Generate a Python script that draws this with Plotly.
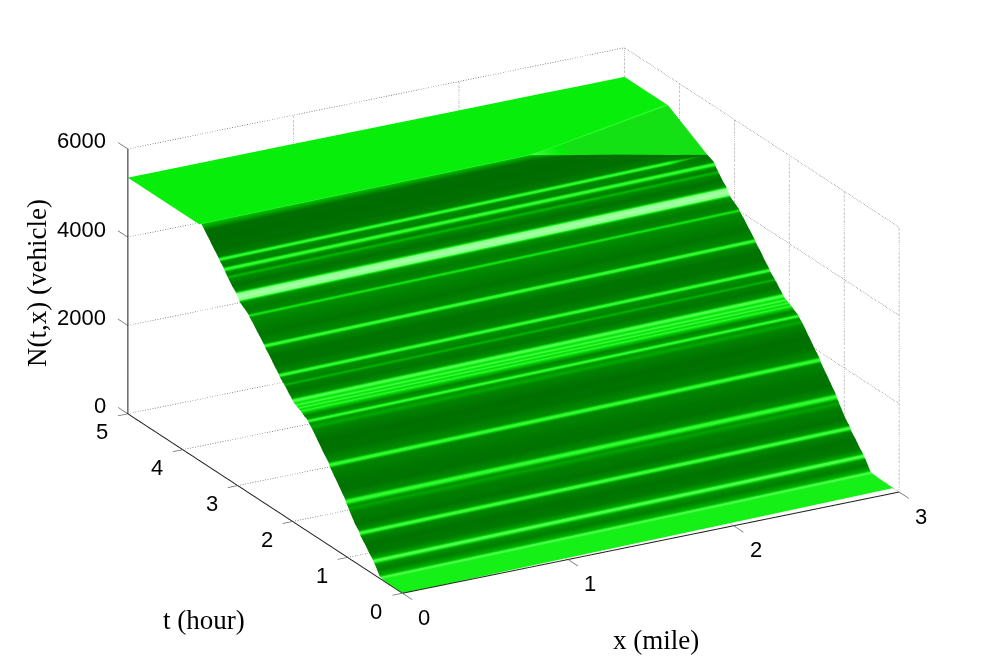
import numpy as np
import plotly.graph_objects as go

# tick labels
x_ticks = [0, 1, 2, 3]
t_ticks = [0, 1, 2, 3, 4, 5]
z_ticks = [0, 2000, 4000, 6000]

# columns along the road, and how much later the same row arrives there
x_cols = [0, 1, 2, 2.25, 2.5, 2.75, 3]
delay = [0, 0.035, 0.07, 0.08, 0.09, 0.10, 0.11]

# rows of the ramp, read at x=0: time, cumulative count, brightness of the band
t_rows = [0.00, 0.36, 0.38, 0.40, 0.42, 0.46, 0.50, 0.525, 0.535, 0.55, 0.60, 0.68,
          0.76, 0.775, 0.785, 0.80, 0.86, 0.95, 0.98, 1.00, 1.025, 1.035, 1.05, 1.12,
          1.20, 1.31, 1.325, 1.335, 1.35, 1.44, 1.54, 1.63, 1.66, 1.70, 1.715, 1.725,
          1.74, 1.79, 1.83, 1.85, 1.875, 1.895, 1.92, 1.94, 1.97, 1.99, 2.005, 2.02,
          2.08, 2.13, 2.15, 2.17, 2.225, 2.24, 2.25, 2.265, 2.34, 2.42, 2.49, 2.505,
          2.515, 2.53, 2.62, 2.72, 2.78, 2.79, 2.80, 2.81, 2.88, 2.955, 2.975, 3.00,
          3.025, 3.045, 3.11, 3.16, 3.18, 3.20, 3.225, 3.24, 3.25, 3.265, 3.315, 3.33,
          3.34, 3.355, 3.42, 3.52, 3.60, 3.635]
n_rows = [0, 20, 28, 35, 60, 150, 240, 280, 310, 340, 410, 550,
          670, 708, 742, 775, 860, 1050, 1120, 1170, 1215, 1255, 1295, 1420,
          1570, 1765, 1805, 1840, 1875, 2020, 2200, 2360, 2410, 2460, 2490, 2510,
          2530, 2560, 2600, 2620, 2635, 2650, 2665, 2680, 2700, 2722, 2745, 2780,
          2860, 2945, 2970, 3000, 3070, 3092, 3122, 3150, 3270, 3410, 3518, 3545,
          3578, 3600, 3740, 3900, 3985, 4005, 4025, 4045, 4110, 4180, 4215, 4273,
          4328, 4365, 4450, 4540, 4570, 4610, 4650, 4680, 4712, 4740, 4810, 4835,
          4860, 4890, 4990, 5160, 5290, 5350]
shade_rows = [0.80, 0.80, 0.90, 0.92, 0.45, 0.20, 0.30, 0.92, 0.92, 0.40, 0.17, 0.12,
              0.25, 0.88, 0.88, 0.30, 0.13, 0.20, 0.40, 0.28, 0.86, 0.86, 0.28, 0.12,
              0.14, 0.24, 0.86, 0.86, 0.28, 0.12, 0.11, 0.22, 0.42, 0.30, 0.86, 0.86,
              0.35, 0.22, 0.60, 0.88, 0.65, 0.90, 0.70, 0.92, 0.70, 0.92, 0.90, 0.30,
              0.15, 0.20, 0.50, 0.22, 0.30, 0.86, 0.86, 0.25, 0.12, 0.13, 0.28, 0.86,
              0.86, 0.26, 0.14, 0.22, 0.30, 0.70, 0.70, 0.25, 0.18, 0.30, 0.97, 1.00,
              0.97, 0.25, 0.12, 0.25, 0.52, 0.18, 0.30, 0.86, 0.86, 0.22, 0.25, 0.86,
              0.86, 0.20, 0.10, 0.08, 0.10, 0.40]

# where the ramp stops (shock line) and where the plateau begins, per column
shock_t = [3.66, 3.68, 3.70, 3.65, 3.60, 3.54, 3.49]
shock_n = [5390, 5390, 5390, 5240, 5100, 4950, 4800]
ridge_low_t = [3.665, 3.685, 3.705, 3.81, 3.94, 4.07, 4.20]
ridge_low_n = [5390, 5390, 5390, 5370, 5350, 5345, 5335]
ridge_t = [3.67, 3.69, 3.71, 3.83, 3.96, 4.09, 4.22]
ridge_n = [5390, 5390, 5390, 5375, 5360, 5350, 5340]
plateau_n = [5350, 5350, 5345, 5345, 5345, 5340, 5340]

GRID = "rgb(110,110,110)"
AXIS = "rgb(30,30,30)"

# build the surface rows
X, Y, Z, C = [], [], [], []
for t, n, s in zip(t_rows, n_rows, shade_rows):
    row_y, row_z, row_c = [], [], []
    for j in range(len(x_cols)):
        if n > shock_n[j]:
            row_y.append(shock_t[j])
            row_z.append(shock_n[j])
            row_c.append(0.1)
        else:
            row_y.append(t + delay[j])
            row_z.append(n)
            row_c.append(s)
    X.append(x_cols); Y.append(row_y); Z.append(row_z); C.append(row_c)

# shock line: dark side, then light side
X.append(x_cols); Y.append(shock_t); Z.append(shock_n); C.append([0.55, 0.55, 0.55, 0.1, 0.1, 0.1, 0.1])
X.append(x_cols); Y.append(shock_t); Z.append(shock_n); C.append([0.90, 0.90, 0.90, 0.72, 0.72, 0.72, 0.72])
# wedge, then its light ridge
X.append(x_cols); Y.append(ridge_low_t); Z.append(ridge_low_n); C.append([0.90, 0.90, 0.90, 0.72, 0.72, 0.72, 0.72])
X.append(x_cols); Y.append(ridge_t); Z.append(ridge_n); C.append([0.88] * 7)
X.append(x_cols); Y.append([v + 0.03 for v in ridge_t]); Z.append(plateau_n); C.append([0.77] * 7)
X.append(x_cols); Y.append([5] * 7); Z.append(plateau_n); C.append([0.77] * 7)

fig = go.Figure()

fig.add_trace(go.Surface(
    x=np.array(X), y=np.array(Y), z=np.array(Z), surfacecolor=np.array(C),
    cmin=0, cmax=1, showscale=False, hoverinfo="skip",
    colorscale=[[0, "rgb(0,95,0)"], [0.12, "rgb(0,115,0)"], [0.3, "rgb(0,145,0)"], [0.5, "rgb(0,185,0)"],
                [0.72, "rgb(20,225,20)"], [0.77, "rgb(5,238,8)"], [0.85, "rgb(45,245,45)"],
                [0.92, "rgb(80,255,80)"], [1, "rgb(165,255,165)"]],
    lighting=dict(ambient=1, diffuse=0, specular=0, roughness=1, fresnel=0),
))


def seg(xs, ys, zs, color, dash="solid", width=1.5):
    fig.add_trace(go.Scatter3d(x=xs, y=ys, z=zs, mode="lines", hoverinfo="skip", showlegend=False,
                               line=dict(color=color, width=width, dash=dash)))


# dotted grid on the back walls and the floor
for z in z_ticks:
    seg([0, 3], [5, 5], [z, z], GRID, "dot")
    seg([3, 3], [0, 5], [z, z], GRID, "dot")
for x in x_ticks:
    seg([x, x], [5, 5], [0, 6000], GRID, "dot")
    seg([x, x], [0, 5], [0, 0], GRID, "dot")
for t in t_ticks:
    seg([3, 3], [t, t], [0, 6000], GRID, "dot")
    seg([0, 3], [t, t], [0, 0], GRID, "dot")

# axes and tick marks
seg([0, 3], [0, 0], [0, 0], AXIS, width=2)
seg([0, 0], [0, 5], [0, 0], AXIS, width=2)
seg([0, 0], [5, 5], [0, 6000], AXIS, width=2)
for x in x_ticks:
    seg([x, x], [0, -0.18], [0, 0], GRID)
for t in t_ticks:
    seg([0, -0.06], [t, t], [0, 0], GRID)
for z in z_ticks:
    seg([0, 0], [5, 5.18], [z, z], GRID)

TICK = dict(family="Liberation Sans", size=22, color="black")
labels = []
for z in z_ticks:
    labels.append(dict(x=0, y=5, z=z, text=str(z), showarrow=False, xanchor="right", font=TICK, xshift=-20, yshift=8))
for t in t_ticks:
    labels.append(dict(x=0, y=t, z=0, text=str(t), showarrow=False, font=TICK, xshift=-26, yshift=-18))
for x in x_ticks:
    labels.append(dict(x=x, y=0, z=0, text=str(x), showarrow=False, font=TICK, xshift=22, yshift=-24))

TITLE = dict(family="Liberation Serif", size=27, color="black")
d = 2.0
zoom = 1.775
fig.update_layout(
    width=994, height=666,
    margin=dict(l=0, r=0, t=0, b=0),
    paper_bgcolor="white",
    showlegend=False,
    scene=dict(
        domain=dict(x=[0.0332, 1], y=[0.0375, 1]),
        xaxis=dict(visible=False, range=[-0.2, 3.2]),
        yaxis=dict(visible=False, range=[-0.3, 5.3]),
        zaxis=dict(visible=False, range=[-300, 6300]),
        aspectmode="manual",
        aspectratio=dict(x=zoom * 3.4 / 3, y=zoom * 0.99 * 5.6 / 5, z=zoom * 0.5 * 6600 / 6000),
        camera=dict(projection=dict(type="orthographic"),
                    up=dict(x=0, y=0, z=1), center=dict(x=0, y=0, z=0),
                    eye=dict(x=-0.454 * d, y=-0.813 * d, z=0.365 * d)),
        annotations=labels,
    ),
    annotations=[
        dict(x=204 / 994, y=1 - 620 / 666, xref="paper", yref="paper", text="t (hour)", showarrow=False, font=TITLE,
             xanchor="center", yanchor="middle"),
        dict(x=656 / 994, y=1 - 640 / 666, xref="paper", yref="paper", text="x (mile)", showarrow=False, font=TITLE,
             xanchor="center", yanchor="middle"),
        dict(x=37 / 994, y=1 - 283 / 666, xref="paper", yref="paper", text="N(t,x) (vehicle)", textangle=-90,
             showarrow=False, font=TITLE, xanchor="center", yanchor="middle"),
    ],
)

fig.write_html("out.html", config=dict(displayModeBar=False), post_script="document.body.style.margin='0';")
